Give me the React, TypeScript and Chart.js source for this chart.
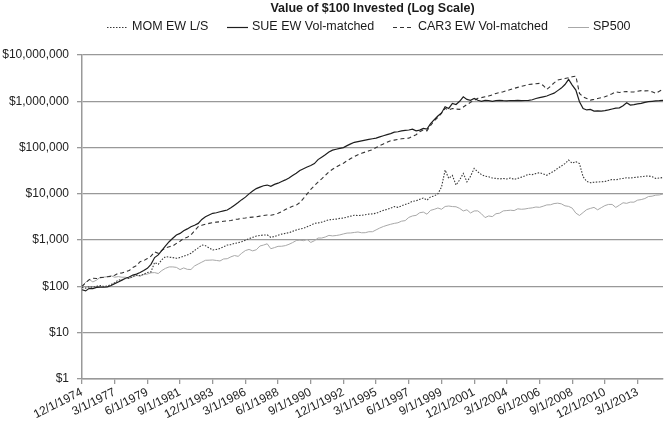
import React, { useEffect, useRef } from "react";
import { Chart, registerables } from "chart.js";

Chart.register(...registerables);

const TITLE = "Value of $100 Invested (Log Scale)";

// Quarterly categories: 12/1/1974 ... 12/1/2014
const QUARTER_MONTHS = [3, 6, 9, 12];
const categories: string[] = ["12/1/1974"];
for (let y = 1975; y <= 2014; y++) {
  for (const m of QUARTER_MONTHS) categories.push(`${m}/1/${y}`);
}

const TICK_LABELS = [
  "12/1/1974", "3/1/1977", "6/1/1979", "9/1/1981", "12/1/1983", "3/1/1986",
  "6/1/1988", "9/1/1990", "12/1/1992", "3/1/1995", "6/1/1997", "9/1/1999",
  "12/1/2001", "3/1/2004", "6/1/2006", "9/1/2008", "12/1/2010", "3/1/2013",
];

const Y_TICKS = [1, 10, 100, 1000, 10000, 100000, 1000000, 10000000];

// Series values, one row per year (Mar, Jun, Sep, Dec), first value = Dec 1974
const momEW = [
  95,
  92, 98, 96, 100,
  104, 100, 102, 110,
  120, 137, 140, 148,
  150, 165, 176, 170,
  185, 200, 206, 330,
  300, 380, 440, 430,
  420, 405, 420, 450,
  480, 519, 600, 680,
  783, 760, 680, 611,
  630, 660, 720, 783,
  800, 850, 880, 925,
  1000, 1080, 1150, 1227,
  1260, 1290, 1300, 1150,
  1200, 1280, 1350, 1400,
  1450, 1550, 1650, 1750,
  1800, 1950, 2100, 2300,
  2350, 2450, 2600, 2750,
  2800, 2850, 2950, 3000,
  3150, 3300, 3450, 3400,
  3450, 3550, 3650, 3700,
  3800, 4100, 4400, 4600,
  4900, 5300, 5100, 5500,
  5900, 6300, 6900, 7100,
  7600, 8100, 7300, 8600,
  9000, 10000, 14000, 32700,
  21600, 25000, 15500, 20000,
  27700, 18200, 24000, 35500,
  30000, 26000, 24000, 23400,
  22000, 21600, 21000, 21500,
  21000, 22000, 20500, 21600,
  23000, 24500, 26500, 26000,
  27500, 28600, 27000, 25200,
  28000, 31000, 35500, 40000,
  45000, 53700, 46000, 49600,
  45000, 23400, 18500, 17400,
  17800, 18000, 18300, 18500,
  19500, 20500, 20000, 21000,
  21500, 22300, 22000, 22500,
  23000, 23500, 24000, 24300,
  23500, 21600, 22000, 22500,
];

const sueEW = [
  85,
  80, 91, 90, 95,
  97, 96, 98, 105,
  115, 125, 137, 150,
  160, 176, 185, 200,
  220, 246, 300, 420,
  480, 600, 750, 925,
  1100, 1290, 1400, 1600,
  1750, 1950, 2100, 2300,
  2800, 3200, 3500, 3800,
  3900, 4100, 4300, 4470,
  5000, 5700, 6500, 7500,
  8500, 10000, 11500, 13000,
  14000, 15000, 15500, 14500,
  16000, 17000, 18500, 20000,
  22000, 25000, 28000, 32000,
  35000, 38000, 41000, 45000,
  55000, 62000, 70000, 80000,
  88000, 92000, 96000, 100000,
  110000, 120000, 130000, 135000,
  140000, 145000, 150000, 155000,
  160000, 170000, 180000, 190000,
  200000, 215000, 220000, 230000,
  235000, 240000, 250000, 230000,
  239000, 260000, 250000, 330000,
  400000, 480000, 560000, 760000,
  700000, 900000, 850000, 1000000,
  1250000, 1100000, 1050000, 1150000,
  1050000, 1000000, 1050000, 1030000,
  1000000, 1030000, 1050000, 1030000,
  1020000, 1040000, 1030000, 1050000,
  1030000, 1040000, 1050000, 1080000,
  1150000, 1200000, 1250000, 1300000,
  1400000, 1500000, 1700000, 1930000,
  2300000, 2970000, 2240000, 1750000,
  976000, 700000, 650000, 668000,
  614000, 620000, 614000, 630000,
  650000, 680000, 713000, 720000,
  800000, 929000, 828000, 850000,
  880000, 900000, 950000, 980000,
  1000000, 1020000, 1030000, 1050000,
];

const car3EW = [
  100,
  120, 140, 150, 148,
  155, 158, 162, 165,
  175, 192, 195, 210,
  220, 258, 280, 342,
  360, 400, 450, 560,
  520, 600, 680, 720,
  750, 850, 950, 1090,
  1150, 1300, 1600, 1950,
  2100, 2200, 2300, 2400,
  2450, 2500, 2550, 2600,
  2650, 2800, 2850, 2950,
  3000, 3100, 3150, 3200,
  3300, 3400, 3500, 3450,
  3600, 3800, 4100, 4600,
  5000, 5400, 5700, 6500,
  8000, 10000, 12500, 15000,
  18000, 21000, 25000, 30000,
  34000, 38000, 42000, 46000,
  52000, 58000, 64000, 70000,
  75000, 80000, 85000, 90000,
  100000, 110000, 120000, 130000,
  140000, 145000, 150000, 155000,
  158000, 160000, 175000, 190000,
  219000, 240000, 230000, 300000,
  380000, 450000, 550000, 703000,
  650000, 700000, 680000, 668000,
  750000, 850000, 950000, 1050000,
  1160000, 1200000, 1250000, 1300000,
  1380000, 1480000, 1550000, 1600000,
  1700000, 1800000, 1900000, 2000000,
  2100000, 2200000, 2300000, 2350000,
  2400000, 2440000, 2200000, 1810000,
  2100000, 2500000, 2870000, 3000000,
  3100000, 3220000, 3400000, 3500000,
  1480000, 1250000, 1150000, 1060000,
  1100000, 1150000, 1200000, 1250000,
  1350000, 1450000, 1600000, 1550000,
  1600000, 1620000, 1580000, 1600000,
  1650000, 1700000, 1680000, 1690000,
  1600000, 1480000, 1650000, 1810000,
];

const sp500 = [
  100,
  123, 141, 125, 137,
  157, 159, 162, 170,
  158, 163, 158, 158,
  149, 161, 172, 168,
  180, 185, 197, 199,
  190, 221, 246, 264,
  264, 258, 231, 251,
  234, 232, 277, 305,
  335, 367, 369, 373,
  364, 355, 392, 397,
  436, 465, 446, 523,
  596, 630, 587, 620,
  747, 783, 834, 653,
  690, 735, 738, 761,
  813, 885, 980, 1002,
  973, 1034, 892, 971,
  1112, 1110, 1169, 1267,
  1235, 1259, 1298, 1363,
  1422, 1429, 1466, 1500,
  1443, 1449, 1520, 1520,
  1668, 1827, 1972, 2091,
  2203, 2302, 2373, 2571,
  2640, 3100, 3333, 3429,
  3907, 4036, 3635, 4409,
  4628, 4955, 4646, 5337,
  5459, 5314, 5262, 4851,
  4276, 4526, 3861, 4275,
  4287, 3712, 3071, 3330,
  3225, 3722, 3820, 4285,
  4358, 4433, 4350, 4751,
  4649, 4713, 4883, 4984,
  5194, 5119, 5409, 5771,
  5808, 6170, 6295, 6088,
  5513, 5363, 4914, 3835,
  3413, 3955, 4572, 4850,
  5107, 4520, 5030, 5581,
  5911, 5910, 5090, 5699,
  6416, 6241, 6638, 6611,
  7310, 7521, 7917, 8752,
  8911, 9379, 9483, 9950,
];

const SERIES_LABELS = ["MOM EW L/S", "SUE EW Vol-matched", "CAR3 EW Vol-matched", "SP500"];

const FONT = '"Liberation Sans", Arial, Helvetica, sans-serif';
const LEGEND_X = [107, 227, 393, 568];

const headerPlugin = {
  id: "headerPlugin",
  afterDraw(chart: any) {
    const ctx = chart.ctx as CanvasRenderingContext2D;
    const { left, right } = chart.chartArea;
    ctx.save();
    ctx.fillStyle = "#1a1a1a";
    ctx.textBaseline = "middle";
    ctx.textAlign = "center";
    ctx.font = `bold 12.5px ${FONT}`;
    ctx.fillText(TITLE, (left + right) / 2, 9);
    ctx.font = `12.5px ${FONT}`;
    ctx.textAlign = "left";
    const y = 27;
    chart.data.datasets.forEach((ds: any, i: number) => {
      const x0 = LEGEND_X[i];
      ctx.strokeStyle = ds.borderColor;
      ctx.lineWidth = ds.borderWidth;
      ctx.setLineDash(ds.borderDash || []);
      ctx.beginPath();
      ctx.moveTo(x0, y + 0.5);
      ctx.lineTo(x0 + 21, y + 0.5);
      ctx.stroke();
      ctx.setLineDash([]);
      ctx.fillStyle = "#1a1a1a";
      ctx.fillText(ds.label, x0 + 25, y);
    });
    ctx.restore();
  },
};

export default function App() {
  const canvasRef = useRef<HTMLCanvasElement | null>(null);

  useEffect(() => {
    document.body.style.margin = "0";
    const canvas = canvasRef.current;
    if (!canvas) return;
    const chart = new Chart(canvas, {
      type: "line",
      data: {
        labels: categories,
        datasets: [
          {
            label: SERIES_LABELS[0],
            data: momEW,
            borderColor: "#3a3a3a",
            borderWidth: 1.1,
            borderDash: [1.5, 1.5],
            pointRadius: 0,
            tension: 0,
          },
          {
            label: SERIES_LABELS[1],
            data: sueEW,
            borderColor: "#1e1e1e",
            borderWidth: 1.2,
            pointRadius: 0,
            tension: 0,
          },
          {
            label: SERIES_LABELS[2],
            data: car3EW,
            borderColor: "#333333",
            borderWidth: 1.1,
            borderDash: [4, 3],
            pointRadius: 0,
            tension: 0,
          },
          {
            label: SERIES_LABELS[3],
            data: sp500,
            borderColor: "#a8a8a8",
            borderWidth: 1,
            pointRadius: 0,
            tension: 0,
          },
        ],
      },
      options: {
        responsive: false,
        animation: false,
        devicePixelRatio: 1,
        layout: { padding: { top: 55, right: 2, left: 2, bottom: 0 } },
        plugins: {
          legend: { display: false },
          title: { display: false },
          tooltip: { enabled: false },
        },
        scales: {
          x: {
            type: "category",
            offset: false,
            afterFit: (scale: any) => {
              scale.height = 48;
            },
            grid: {
              drawOnChartArea: false,
              color: "#999999",
              lineWidth: 1.3,
              tickLength: 5,
            },
            border: { color: "#999999", width: 1.5 },
            ticks: {
              autoSkip: false,
              minRotation: 27,
              maxRotation: 27,
              padding: 1,
              color: "#222222",
              font: { size: 12, family: FONT },
              callback: (_v: any, i: number) =>
                TICK_LABELS.includes(categories[i]) ? categories[i] : null,
            },
          },
          y: {
            type: "logarithmic",
            min: 1,
            max: 10000000,
            afterFit: (scale: any) => {
              scale.width = 80;
            },
            afterBuildTicks: (scale: any) => {
              scale.ticks = Y_TICKS.map((v) => ({ value: v }));
            },
            grid: { color: "#999999", lineWidth: 1.3, tickLength: 5 },
            border: { color: "#999999", width: 1.5 },
            ticks: {
              padding: 8,
              color: "#222222",
              font: { size: 12, family: FONT },
              callback: (v: any) => "$" + Number(v).toLocaleString("en-US"),
            },
          },
        },
      },
      plugins: [headerPlugin],
    });
    return () => chart.destroy();
  }, []);

  return (
    <div style={{ width: 665, height: 427 }}>
      <canvas ref={canvasRef} width={665} height={427} style={{ display: "block" }} />
    </div>
  );
}
